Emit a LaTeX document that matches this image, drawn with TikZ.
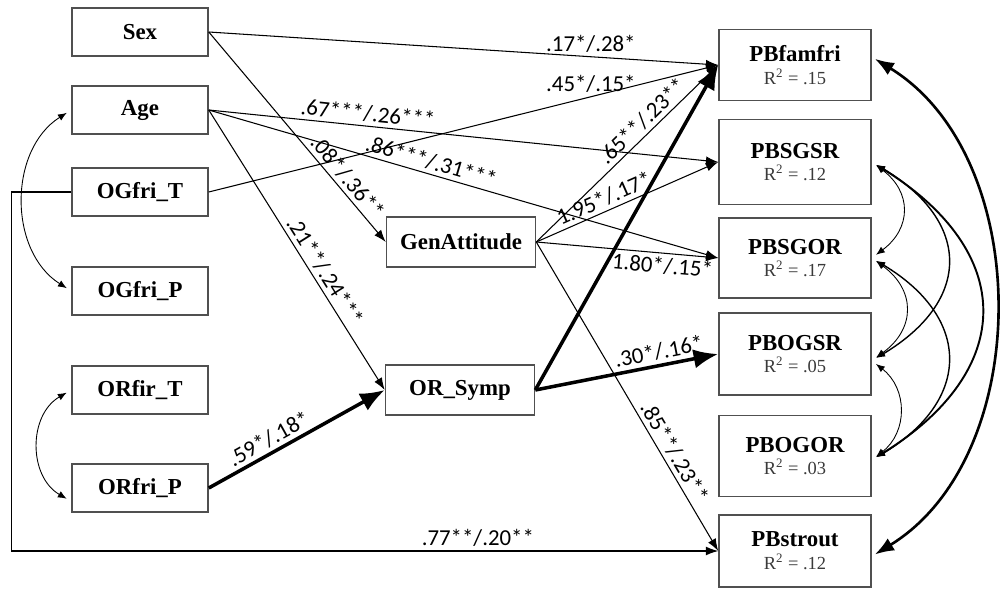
\documentclass[tikz,border=0pt]{standalone}
\usepackage{fontspec}
\setmainfont{Liberation Serif}
\newfontfamily\coeffont{Carlito}
\usetikzlibrary{arrows.meta}
\definecolor{pbframe}{HTML}{505050}
\definecolor{pbrsq}{HTML}{3A3A3A}
\newcommand{\rsq}[1]{{\fontsize{10.5}{12}\selectfont\mdseries\color{pbrsq}R\textsuperscript{2} = #1}}
\tikzset{
  exobox/.style={draw=pbframe,line width=0.9pt,minimum width=2.72cm,minimum height=0.96cm,inner sep=2pt,font=\fontsize{13}{15}\selectfont\bfseries},
  medbox/.style={exobox,minimum width=2.98cm,minimum height=1.0cm},
  outbox/.style={exobox,minimum width=3.04cm,align=center},
  ar/.style={-{Latex[length=7pt,width=5pt]},line width=0.6pt},
  thk/.style={-{Latex[length=14pt,width=11pt]},line width=2pt},
  coef/.style={font=\coeffont\fontsize{13}{15}\selectfont,inner sep=2pt},
  cov/.style={{Latex[length=5pt,width=4pt]}-{Latex[length=5pt,width=4pt]},line width=0.5pt,shorten <=3pt,shorten >=3pt},
  covbig/.style={{Latex[length=11pt,width=8pt]}-{Latex[length=11pt,width=8pt]},line width=1.5pt,shorten <=2pt,shorten >=2pt},
}
\begin{document}
\begin{tikzpicture}[x=0.02cm,y=-0.02cm]
  \useasboundingbox (0,0) rectangle (1000,588);
  \node[exobox] (Sex) at (140,32) {Sex};
  \node[exobox] (Age) at (140,110) {Age};
  \node[exobox] (OGfriT) at (140,192) {OGfri\_T};
  \node[exobox] (OGfriP) at (140,291) {OGfri\_P};
  \node[exobox] (ORfirT) at (140,390) {ORfir\_T};
  \node[exobox] (ORfriP) at (140,488) {ORfri\_P};
  \node[medbox] (GenAtt) at (461,242) {GenAttitude};
  \node[medbox] (ORSymp) at (460,390) {OR\_Symp};
  \node[outbox,minimum height=1.42cm] (PBfamfri) at (795,65) {PBfamfri\\[-2pt]\rsq{.15}};
  \node[outbox,minimum height=1.7cm] (PBSGSR) at (795,162) {PBSGSR\\[-2pt]\rsq{.12}};
  \node[outbox,minimum height=1.6cm] (PBSGOR) at (795,258) {PBSGOR\\[-2pt]\rsq{.17}};
  \node[outbox,minimum height=1.64cm] (PBOGSR) at (795,354) {PBOGSR\\[-2pt]\rsq{.05}};
  \node[outbox,minimum height=1.62cm] (PBOGOR) at (795,456) {PBOGOR\\[-2pt]\rsq{.03}};
  \node[outbox,minimum height=1.44cm] (PBstrout) at (795,551) {PBstrout\\[-2pt]\rsq{.12}};
  \draw[ar] (Sex.east) -- (PBfamfri.west) node[coef,pos=0.75,above]{.17*/.28*};
  \draw[ar] (Sex.east) -- (GenAtt.west) node[coef,pos=0.73,sloped,above]{.08*/.36**};
  \draw[ar] (Age.east) -- (PBSGSR.west) node[coef,pos=0.31,sloped,above]{.67***/.26***};
  \draw[ar] (Age.east) -- (PBSGOR.west) node[coef,pos=0.43,sloped,above]{.86***/.31***};
  \draw[ar] (Age.east) -- (ORSymp.west) node[coef,pos=0.6,sloped,above]{.21**/.24***};
  \draw[ar] (OGfriT.east) -- (PBfamfri.west) node[coef,pos=0.75,above]{.45*/.15*};
  \draw[ar] (OGfriT.west) -- ++(-60,0) |- (PBstrout.west) node[coef,pos=0.83,above]{.77**/.20**};
  \draw[ar] (GenAtt.east) -- (PBfamfri.west) node[coef,pos=0.63,sloped,above]{.65**/.23**};
  \draw[ar] (GenAtt.east) -- (PBSGSR.west) node[coef,pos=0.4,sloped,above]{1.95*/.17*};
  \draw[ar] (GenAtt.east) -- (PBSGOR.west) node[coef,pos=0.7,sloped,below]{1.80*/.15*};
  \draw[ar] (GenAtt.east) -- (PBstrout.west) node[coef,pos=0.7,sloped,above]{.85**/.23**};
  \draw[thk] (ORSymp.east) -- (PBfamfri.west);
  \draw[thk] (ORSymp.east) -- (PBOGSR.west) node[coef,pos=0.69,sloped,above]{.30*/.16*};
  \draw[thk] (ORfriP.east) -- (ORSymp.west) node[coef,pos=0.38,sloped,above]{.59*/.18*};
  \draw[cov] (Age.west) .. controls +(-63,40) and +(-63,-40) .. (OGfriP.west);
  \draw[cov] (ORfirT.west) .. controls +(-43,25) and +(-43,-25) .. (ORfriP.191);
  \draw[cov] (PBSGSR.east) .. controls +(40,30) and +(40,-30) .. (PBSGOR.east);
  \draw[cov] (PBSGOR.east) .. controls +(44,32) and +(44,-32) .. (PBOGSR.355);
  \draw[cov] (PBOGSR.355) .. controls +(36,28) and +(36,-28) .. (PBOGOR.357);
  \draw[cov,line width=0.8pt] (PBSGSR.east) .. controls +(100,60) and +(100,-60) .. (PBOGSR.355);
  \draw[cov,line width=0.8pt] (PBSGOR.east) .. controls +(100,60) and +(100,-60) .. (PBOGOR.357);
  \draw[cov,line width=1.1pt] (PBSGSR.east) .. controls +(145,90) and +(145,-90) .. (PBOGOR.357);
  \draw[covbig] (PBfamfri.6) .. controls +(163,100) and +(163,-100) .. (PBstrout.356);
\end{tikzpicture}
\end{document}
